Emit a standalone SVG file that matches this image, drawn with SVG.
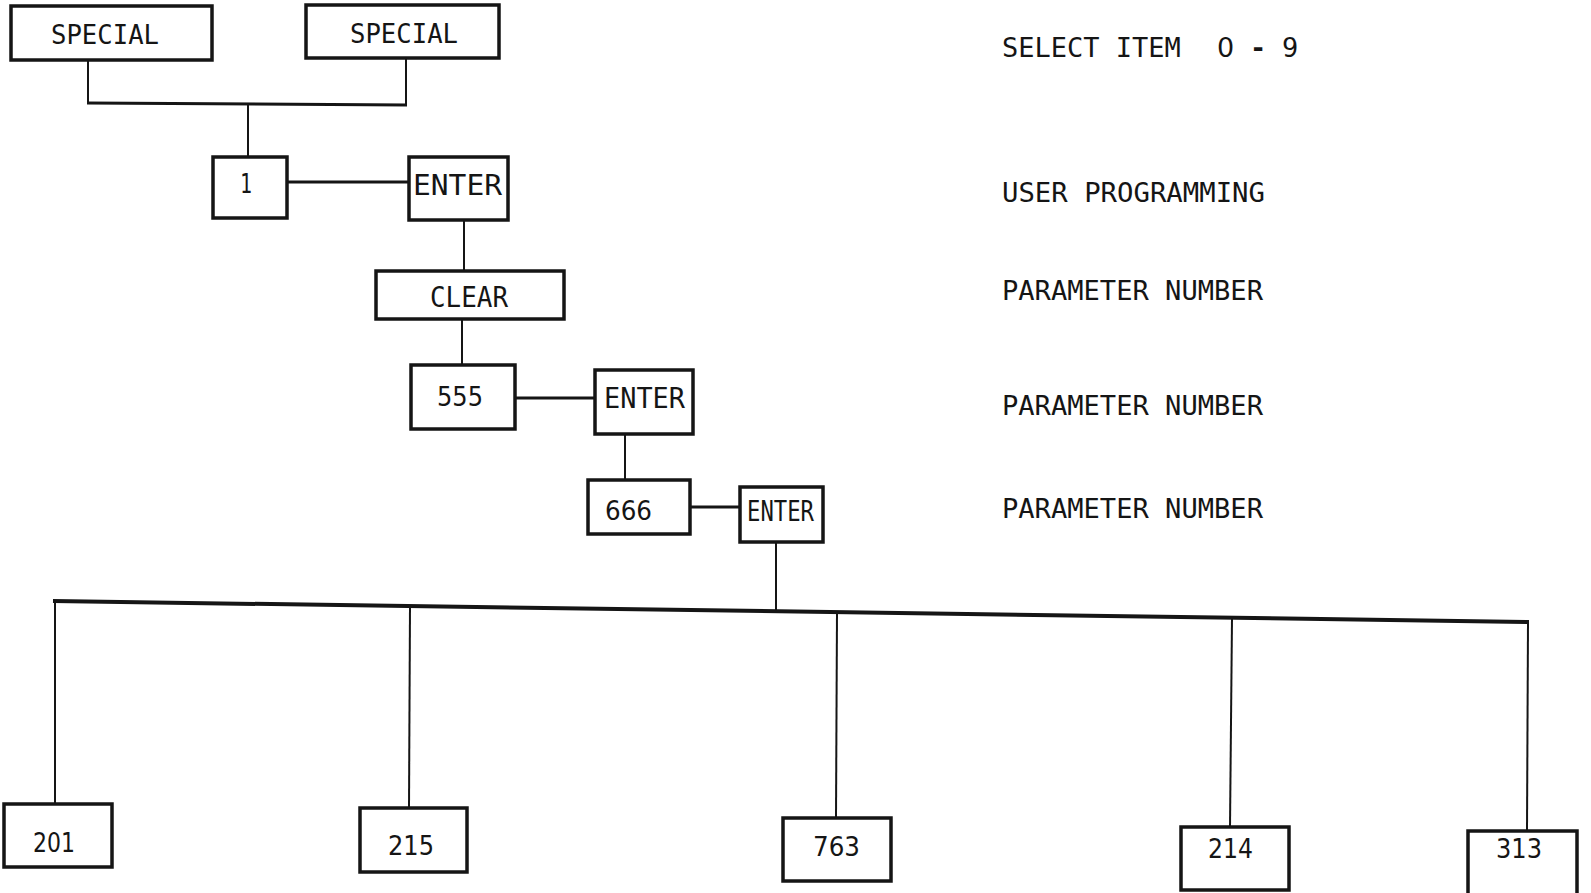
<svg xmlns="http://www.w3.org/2000/svg" width="1591" height="893" viewBox="0 0 1591 893">
<style>
.box{fill:#fff;stroke:#151515;stroke-width:3.5}
.conn{stroke:#151515;stroke-width:2;fill:none}
.bus{stroke:#151515;stroke-width:4;fill:none}
.lbl{font-family:"DejaVu Sans Mono","Liberation Mono",monospace;font-size:27px;fill:#151515}
.num{font-family:"DejaVu Sans","Liberation Sans",sans-serif;font-size:27px;fill:#151515}
.note{font-family:"DejaVu Sans Mono","Liberation Mono",monospace;font-size:27px;fill:#151515}
</style>
<rect width="1591" height="893" fill="#fff"/>
<g id="connectors">
<line class="conn" x1="88" y1="60" x2="88" y2="104"/>
<line class="conn" x1="406" y1="58" x2="406" y2="105"/>
<line class="bus" x1="87" y1="103" x2="407" y2="105" style="stroke-width:3"/>
<line class="conn" x1="248" y1="104" x2="248" y2="157"/>
<line class="bus" x1="287" y1="182" x2="409" y2="182" style="stroke-width:3"/>
<line class="conn" x1="464" y1="220" x2="464" y2="271"/>
<line class="conn" x1="462" y1="319" x2="462" y2="365"/>
<line class="bus" x1="515" y1="398" x2="595" y2="398" style="stroke-width:3"/>
<line class="conn" x1="625" y1="434" x2="625" y2="480"/>
<line class="bus" x1="690" y1="507" x2="740" y2="507" style="stroke-width:3"/>
<line class="conn" x1="776" y1="542" x2="776" y2="611"/>
<line class="bus" x1="53" y1="601" x2="1529" y2="622"/>
<line class="conn" x1="55" y1="601" x2="55" y2="804"/>
<line class="conn" x1="410" y1="606" x2="409" y2="808"/>
<line class="conn" x1="837" y1="612" x2="836" y2="818"/>
<line class="conn" x1="1232" y1="618" x2="1230" y2="827"/>
<line class="conn" x1="1528" y1="622" x2="1527" y2="830"/>
</g>
<g id="n_special1"><rect class="box" x="11" y="6" width="201" height="54"/><text class="lbl" x="51" y="44" textLength="108" lengthAdjust="spacingAndGlyphs">SPECIAL</text></g>
<g id="n_special2"><rect class="box" x="306" y="5" width="193" height="53"/><text class="lbl" x="350" y="43" textLength="108" lengthAdjust="spacingAndGlyphs">SPECIAL</text></g>
<g id="n_1"><rect class="box" x="213" y="157" width="74" height="61"/><text class="lbl" x="240" y="193" textLength="12" lengthAdjust="spacingAndGlyphs">1</text></g>
<g id="n_enter1"><rect class="box" x="409" y="157" width="99" height="63"/><text class="lbl" x="413" y="195" textLength="89" lengthAdjust="spacingAndGlyphs" style="font-size:29px">ENTER</text></g>
<g id="n_clear"><rect class="box" x="376" y="271" width="188" height="48"/><text class="lbl" x="430" y="307" textLength="78" lengthAdjust="spacingAndGlyphs" style="font-size:29px">CLEAR</text></g>
<g id="n_555"><rect class="box" x="411" y="365" width="104" height="64"/><text class="num" x="437" y="406" textLength="46" lengthAdjust="spacingAndGlyphs">555</text></g>
<g id="n_enter2"><rect class="box" x="595" y="370" width="98" height="64"/><text class="lbl" x="604" y="408" textLength="81" lengthAdjust="spacingAndGlyphs" style="font-size:28px">ENTER</text></g>
<g id="n_666"><rect class="box" x="588" y="480" width="102" height="54"/><text class="num" x="605" y="520" textLength="47" lengthAdjust="spacingAndGlyphs">666</text></g>
<g id="n_enter3"><rect class="box" x="740" y="487" width="83" height="55"/><text class="lbl" x="747" y="521" textLength="67" lengthAdjust="spacingAndGlyphs" style="font-size:28px">ENTER</text></g>
<g id="n_201"><rect class="box" x="4" y="804" width="108" height="63"/><text class="num" x="33" y="852" textLength="42" lengthAdjust="spacingAndGlyphs">201</text></g>
<g id="n_215"><rect class="box" x="360" y="808" width="107" height="64"/><text class="num" x="388" y="855" textLength="46" lengthAdjust="spacingAndGlyphs">215</text></g>
<g id="n_763"><rect class="box" x="783" y="818" width="108" height="63"/><text class="num" x="813" y="856" textLength="47" lengthAdjust="spacingAndGlyphs">763</text></g>
<g id="n_214"><rect class="box" x="1181" y="827" width="108" height="63"/><text class="num" x="1208" y="858" textLength="45" lengthAdjust="spacingAndGlyphs">214</text></g>
<g id="n_313"><rect class="box" x="1468" y="831" width="109" height="64"/><text class="num" x="1496" y="858" textLength="46" lengthAdjust="spacingAndGlyphs">313</text></g>
<g id="notes">
<text class="note" y="57"><tspan x="1002">SELECT ITEM</tspan><tspan x="1217" style="font-family:'DejaVu Sans','Liberation Sans',sans-serif">0</tspan><tspan x="1250" font-weight="bold">-</tspan><tspan x="1282">9</tspan></text>
<text class="note" x="1002" y="202" textLength="263" lengthAdjust="spacingAndGlyphs">USER PROGRAMMING</text>
<text class="note" x="1002" y="300" textLength="261" lengthAdjust="spacingAndGlyphs">PARAMETER NUMBER</text>
<text class="note" x="1002" y="415" textLength="261" lengthAdjust="spacingAndGlyphs">PARAMETER NUMBER</text>
<text class="note" x="1002" y="518" textLength="261" lengthAdjust="spacingAndGlyphs">PARAMETER NUMBER</text>
</g>
</svg>
